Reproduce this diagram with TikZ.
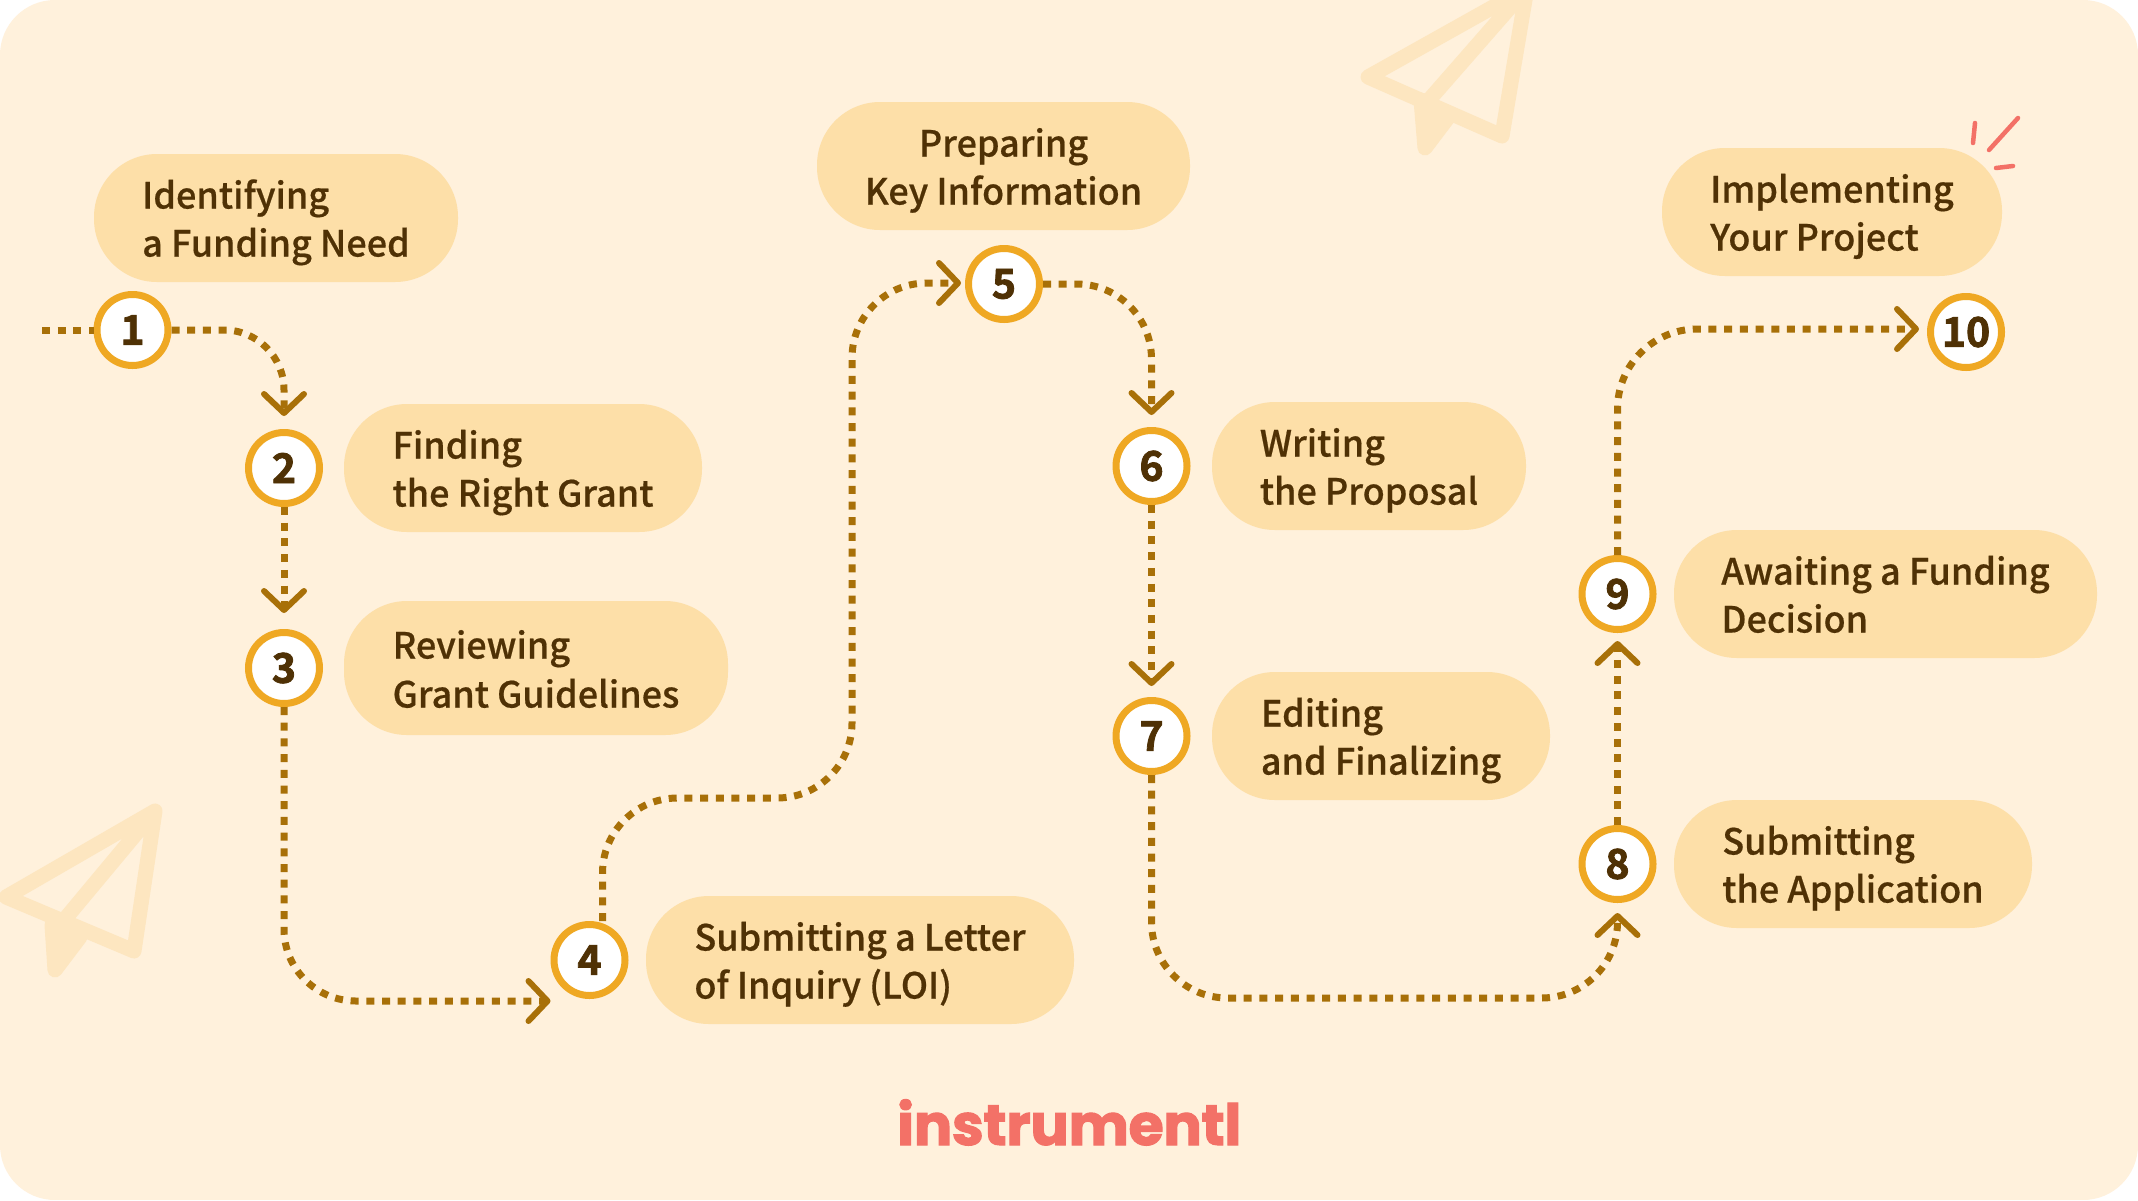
\documentclass[tikz,border=0pt]{standalone}
\usepackage{fontspec}
\usetikzlibrary{arrows.meta,calc}
\newfontfamily\lab{Noto Sans CJK SC Medium}[FakeBold=0.5]
\newfontfamily\num{Noto Sans CJK SC Bold}[FakeBold=2]
\newfontfamily\logo{Poppins}[BoldFeatures={FakeBold=2,LetterSpace=-0.5}]
\definecolor{card}{HTML}{FFF1DC}
\definecolor{pill}{HTML}{FDDFA8}
\definecolor{ink}{HTML}{4F3105}
\definecolor{ring}{HTML}{EFA823}
\definecolor{path}{HTML}{A87008}
\definecolor{plane}{HTML}{FDE6C0}
\definecolor{coral}{HTML}{F37167}
\tikzset{
  x=1pt,y=-1pt,
  pillbox/.style={rectangle,rounded corners=63pt,fill=pill,text=ink,inner sep=0pt,
    font=\lab\fontsize{36}{48}\selectfont,minimum height=128pt,minimum width=#1,
    text height=85pt,text depth=8pt,anchor=center},
  pillleft/.style={pillbox=#1,align=left},
  pillmid/.style={pillbox=#1,align=center},
  numdot/.style={circle,draw=ring,line width=7pt,fill=white,minimum size=71pt,inner sep=0pt,
    text=ink,font=\num\fontsize{41}{41}\selectfont},
  dotline/.style={draw=path,line width=7pt,dash pattern=on 8pt off 7.7pt},
  conn/.style={dotline,rounded corners=#1,
    -{Straight Barb[length=19pt,width=40pt,line width=6pt,round]}},
  conn/.default=70pt,
  planeline/.style={draw=plane,line width=15pt,line join=round,line cap=round},
  spark/.style={draw=coral,line width=4.5pt,line cap=round},
}
\begin{document}
\begin{tikzpicture}
\useasboundingbox (0,0) rectangle (2138,1200);
\fill[white] (0,0) rectangle (2138,1200);
\begin{scope}
\path[clip,rounded corners=55pt] (0,0) rectangle (2138,1200);
\fill[card] (0,0) rectangle (2138,1200);
% paper planes
\draw[planeline] (155,811) -- (6,897) -- (134,951) -- cycle (155,811) -- (60,925);
\filldraw[planeline,fill=plane] (52,925) -- (55,970) -- (80,937) -- cycle;
\draw[planeline] (1527,-12) -- (1368,77) -- (1502,136) -- cycle (1527,-12) -- (1429,100);
\filldraw[planeline,fill=plane] (1421,100) -- (1425,148) -- (1450,115) -- cycle;
\end{scope}
% pills
\node[pillleft=364pt] (p1) at (276,218) {Identifying\\a Funding Need};
\node[pillleft=358pt] (p2) at (523,468) {Finding\\the Right Grant};
\node[pillleft=384pt,minimum height=134pt,font=\lab\fontsize{36}{49}\selectfont,text depth=6pt] (p3) at (536,668) {Reviewing\\Grant Guidelines};
\node[pillleft=428pt] (p4) at (860,960) {Submitting a Letter\\of Inquiry (LOI)};
\node[pillmid=373pt] (p5) at (1003.5,166) {Preparing\\Key Information};
\node[pillleft=314pt] (p6) at (1369,466) {Writing\\the Proposal};
\node[pillleft=338pt] (p7) at (1381,736) {Editing\\and Finalizing};
\node[pillleft=358pt] (p8) at (1853,864) {Submitting\\the Application};
\node[pillleft=423pt] (p9) at (1885.5,594) {Awaiting a Funding\\Decision};
\node[pillleft=340pt] (p10) at (1832,212) {Implementing\\Your Project};
% numbered dots
\node[numdot] (n1) at (132.5,330) {1};
\node[numdot] (n2) at (284,468) {2};
\node[numdot] (n3) at (284,668) {3};
\node[numdot] (n4) at (589.5,960) {4};
\node[numdot] (n5) at (1004,284) {5};
\node[numdot] (n6) at (1151.5,466) {6};
\node[numdot] (n7) at (1151.5,736) {7};
\node[numdot] (n8) at (1617.5,864) {8};
\node[numdot] (n9) at (1617.5,594) {9};
\node[numdot] (n10) at (1966,332) {10};
% connectors
\coordinate (start) at (42,330);
\coordinate (b45) at (852,798);
\draw[dotline] (start) -- (n1.west);
\draw[conn=60pt,shorten >=13pt] (n1.east) -| (n2.north);
\draw[conn,shorten >=16pt] (n2.south) -- (n3.north);
\draw[conn=72pt] (n3.south) |- ([yshift=-41pt]n4.west);
\draw[conn=75pt,shorten >=4pt] ([xshift=13pt]n4.north) |- (b45) |- ([yshift=1pt]n5.west);
\draw[conn=75pt,shorten >=12pt] (n5.east) -| (n6.north);
\draw[conn,shorten >=11pt] (n6.south) -- (n7.north);
\draw[conn=76pt,shorten >=10pt] (n7.south) |- ([yshift=-95pt]n8.south) -- (n8.south);
\draw[conn,shorten >=8pt] (n8.north) -- (n9.south);
\draw[conn=80pt,shorten >=8pt] (n9.north) |- ([yshift=3pt]n10.west);
% sparks
\draw[spark] (2018,118) -- (1989,150);
\draw[spark] (1975,123) -- (1973,143);
\draw[spark] (1996,168) -- (2013,166);
% logo
\node[text=coral,font=\logo\bfseries\fontsize{57}{57}\selectfont,anchor=base west,inner sep=0pt] (logo) at (897,1145) {instrumentl};
\end{tikzpicture}
\end{document}
